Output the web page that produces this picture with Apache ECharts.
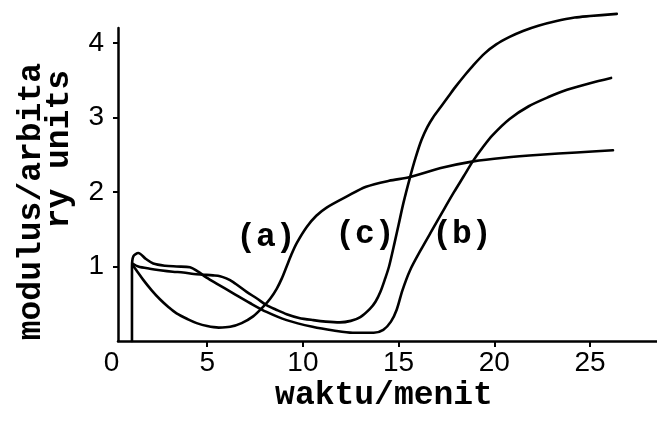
<!DOCTYPE html>
<html>
<head>
<meta charset="utf-8">
<script src="https://cdn.jsdelivr.net/npm/echarts@6/dist/echarts.min.js"></script>
<style>
  html, body { margin: 0; padding: 0; background: #ffffff; }
  #chart { width: 657px; height: 423px; }
</style>
</head>
<body>
<div id="chart"></div>
<script>
// Tick positions for both axes
const xTickValues = [0, 5, 10, 15, 20, 25];
const yTickValues = [1, 2, 3, 4];

// Modulus (arbitrary units) against time (minutes), [waktu, modulus]
const curveA = [
  [1.1, 1.02], [1.3, 0.95], [1.66, 0.82], [2.1, 0.68], [2.53, 0.56], [3.0, 0.45],
  [3.4, 0.37], [4.0, 0.29], [4.45, 0.24], [5.0, 0.2], [5.6, 0.18], [6.2, 0.19],
  [6.8, 0.24], [7.4, 0.33], [7.93, 0.46], [8.3, 0.57], [8.63, 0.7], [8.9, 0.84],
  [9.15, 1.0], [9.4, 1.16], [9.67, 1.31], [10.2, 1.53], [10.7, 1.68], [11.24, 1.79],
  [12.3, 1.94], [13.3, 2.07], [14.5, 2.15], [15.6, 2.2], [17.2, 2.32], [18.9, 2.41],
  [20.5, 2.46], [22.4, 2.5], [24.3, 2.53], [26.2, 2.56]
];

const curveB = [
  [1.07, 0], [1.07, 1.0], [1.15, 1.14], [1.4, 1.18], [1.8, 1.1], [2.18, 1.04],
  [2.8, 1.01], [3.4, 1.0], [4.1, 0.99], [4.53, 0.93], [4.97, 0.85], [5.49, 0.77],
  [6.36, 0.64], [7.23, 0.51], [8.1, 0.39], [9.15, 0.28], [10.5, 0.19], [11.6, 0.14],
  [12.6, 0.11], [13.7, 0.11], [14.2, 0.15], [14.6, 0.26], [14.9, 0.42], [15.2, 0.68],
  [15.6, 0.95], [16.2, 1.24], [16.8, 1.51], [17.4, 1.78], [17.9, 2.0], [18.4, 2.21],
  [18.9, 2.42], [19.4, 2.6], [19.9, 2.76], [20.8, 2.98], [21.8, 3.15], [22.8, 3.27],
  [23.8, 3.37], [25.0, 3.46], [26.1, 3.53]
];

const curveC = [
  [1.1, 1.04], [1.4, 1.0], [2.0, 0.97], [2.53, 0.95], [3.2, 0.93], [3.75, 0.92],
  [4.3, 0.9], [4.8, 0.89], [5.3, 0.88], [5.67, 0.87], [6.0, 0.84], [6.36, 0.79],
  [7.06, 0.66], [7.6, 0.57], [8.1, 0.48], [8.6, 0.42], [9.15, 0.36], [9.8, 0.31],
  [10.54, 0.28], [11.2, 0.26], [11.93, 0.25], [12.5, 0.27], [13.0, 0.32], [13.5, 0.43],
  [13.8, 0.53], [14.05, 0.66], [14.3, 0.84], [14.5, 1.0], [14.8, 1.33], [15.0, 1.56],
  [15.25, 1.85], [15.6, 2.2], [15.9, 2.47], [16.2, 2.7], [16.5, 2.87], [16.8, 3.0],
  [17.2, 3.14], [17.6, 3.28], [18.0, 3.42], [18.5, 3.58], [18.9, 3.7], [19.5, 3.86],
  [20.1, 3.98], [20.8, 4.08], [21.5, 4.16], [22.3, 4.23], [23.2, 4.29], [24.2, 4.34],
  [25.0, 4.36], [26.4, 4.39]
];

// Curve tags and where they sit, in data coordinates
const curveTags = ['(a)', '(c)', '(b)'];
const curveTagAt = [[8.07, 1.38], [13.24, 1.42], [18.31, 1.42]];

const titleX = 'waktu/menit';
const titleY = ['modulus/arbita', 'ry units'];

const mono = '"Liberation Mono", "DejaVu Sans Mono", monospace';
const sans = '"Liberation Sans", Arial, sans-serif';

// The vertical axis stands a little to the right of waktu = 0
const xStart = 0.34;

const chart = echarts.init(document.getElementById('chart'), null, { renderer: 'canvas' });

function lineSeries(name, data) {
  return {
    name: name,
    type: 'line',
    data: data,
    smooth: 0.3,
    showSymbol: false,
    clip: false,
    lineStyle: { color: '#000', width: 2.6, join: 'round', cap: 'round' },
    animation: false
  };
}

const labelMargin = 8;
const labelSize = 28;

chart.setOption({
  backgroundColor: '#ffffff',
  animation: false,
  grid: { left: 118, right: 0, top: 28, bottom: 82 },
  xAxis: {
    type: 'value',
    min: xStart,
    max: 28.5,
    splitLine: { show: false },
    axisLine: { show: true, lineStyle: { color: '#000', width: 2.5 } },
    axisTick: { show: true, customValues: xTickValues.filter(v => v >= xStart), length: 6, lineStyle: { color: '#000', width: 2 } },
    axisLabel: {
      customValues: xTickValues.filter(v => v >= xStart),
      margin: labelMargin,
      color: '#000',
      fontFamily: sans,
      fontSize: labelSize
    }
  },
  yAxis: {
    type: 'value',
    min: 0,
    max: 4.2,
    splitLine: { show: false },
    axisLine: { show: true, lineStyle: { color: '#000', width: 2.5 } },
    axisTick: { show: true, customValues: yTickValues, length: 5, lineStyle: { color: '#000', width: 2 } },
    axisLabel: {
      customValues: yTickValues,
      margin: 14,
      color: '#000',
      fontFamily: sans,
      fontSize: labelSize
    }
  },
  series: [
    lineSeries('a', curveA),
    lineSeries('b', curveB),
    lineSeries('c', curveC)
  ]
});

// Tick labels left of the vertical axis, curve tags and axis titles as text elements
const elements = [];
xTickValues.filter(v => v < xStart).forEach(function (v) {
  const p = chart.convertToPixel({ gridIndex: 0 }, [v, 0]);
  elements.push({
    type: 'text',
    x: p[0],
    y: p[1] + labelMargin,
    style: { text: String(v), fill: '#000', font: labelSize + 'px ' + sans, align: 'center', verticalAlign: 'top' }
  });
});

curveTags.forEach(function (tag, i) {
  const p = chart.convertToPixel({ gridIndex: 0 }, curveTagAt[i]);
  elements.push({
    type: 'text',
    x: p[0],
    y: p[1],
    style: { text: tag, fill: '#000', font: 'bold 33px ' + mono, align: 'center', verticalAlign: 'middle' }
  });
});

elements.push({
  type: 'text',
  x: 384,
  y: 396,
  style: { text: titleX, fill: '#000', font: 'bold 33px ' + mono, align: 'center', verticalAlign: 'middle' }
});
elements.push({
  type: 'text',
  x: 32,
  y: 63,
  rotation: Math.PI / 2,
  style: { text: titleY[0], fill: '#000', font: 'bold 33px ' + mono, align: 'right', verticalAlign: 'middle' }
});
elements.push({
  type: 'text',
  x: 60,
  y: 70,
  rotation: Math.PI / 2,
  style: { text: titleY[1], fill: '#000', font: 'bold 33px ' + mono, align: 'right', verticalAlign: 'middle' }
});

chart.setOption({ graphic: { elements: elements } });
</script>
</body>
</html>
